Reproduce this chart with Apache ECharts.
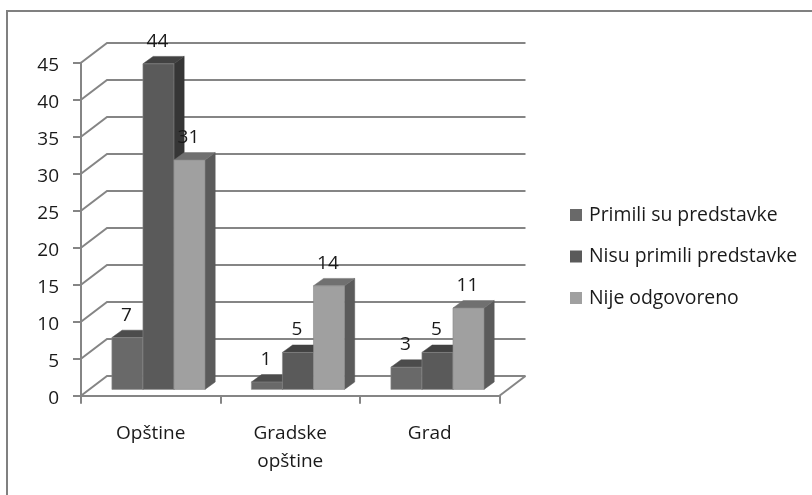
<!DOCTYPE html>
<html><head><meta charset="utf-8">
<style>html,body{margin:0;padding:0;background:#fff}#c{width:812px;height:495px}</style>
<script src="https://cdn.jsdelivr.net/npm/echarts@6/dist/echarts.min.js"></script>
</head><body><div id="c"></div>
<script>
const categories = ['Opštine', 'Gradske\nopštine', 'Grad'];
const primili = [7, 1, 3];
const nisuPrimili = [44, 5, 5];
const nijeOdgovoreno = [31, 14, 11];
const wallTicks = [0, 5, 10, 15, 20, 25, 30, 35, 40, 45];

const FONT = '"Open Sans"';
const TEXT = '#1a1a1a';
const GRID_COLOR = '#858585';
const WALL_DX = 26, WALL_DY = 19.7;
const BAR_DX = 7.7, BAR_DY = 6.3, SIDE_DX = 10.2, SIDE_DY = 7.4;
const BAR_RATIO = 0.2225;
const palettes = [
  {front: '#696969', top: '#4c4c4c', side: '#4a4a4a'},
  {front: '#5a5a5a', top: '#424242', side: '#363636'},
  {front: '#a0a0a0', top: '#707070', side: '#5b5b5b'}
];

function barSeries(name, values, idx) {
  return {
    type: 'custom', name, z: 3 + idx,
    data: values.map((v, i) => [i, v]),
    itemStyle: {color: palettes[idx].front},
    encode: {x: 0, y: 1},
    clip: false,
    renderItem(params, api) {
      const cat = api.value(0), val = api.value(1);
      const top = api.coord([cat, val]), base = api.coord([cat, 0]);
      const w = api.size([1, 0])[0] * BAR_RATIO;
      const x0 = top[0] + BAR_DX + (idx - 1.5) * w, x1 = x0 + w;
      const yT = top[1] - BAR_DY, yB = base[1] - BAR_DY;
      const p = palettes[idx];
      const poly = (points, fill) => ({type: 'polygon', shape: {points}, style: {fill, stroke: fill, lineWidth: 0.5}});
      return {type: 'group', children: [
        poly([[x1, yT], [x1 + SIDE_DX, yT - SIDE_DY], [x1 + SIDE_DX, yB - SIDE_DY], [x1, yB]], p.side),
        poly([[x0, yT], [x0 + SIDE_DX, yT - SIDE_DY], [x1 + SIDE_DX, yT - SIDE_DY], [x1, yT]], p.top),
        {type: 'rect', shape: {x: x0, y: yT, width: w, height: yB - yT},
         style: {fill: p.front, stroke: '#8a8a8a', lineWidth: 0.6}},
        {type: 'text', z2: 100, style: {text: String(val), x: (x0 + x1) / 2 - 1, y: yT - 22.5,
          fill: TEXT, font: '19px ' + FONT, align: 'center', verticalAlign: 'middle'}}
      ]};
    }
  };
}

const wallSeries = {
  type: 'custom', name: 'wall', z: 1, silent: true, clip: false,
  data: wallTicks.map(v => [0, v]),
  encode: {x: 0, y: 1},
  renderItem(params, api) {
    const val = api.value(1);
    const y = api.coord([0, val])[1];
    const start = api.coord([0, 0])[0] - api.size([1, 0])[0] / 2;
    const end = start + api.size([1, 0])[0] * categories.length;
    const line = {stroke: GRID_COLOR, lineWidth: 2};
    const children = [{type: 'polyline', style: Object.assign({fill: 'none'}, line),
      shape: {points: [[start, y], [start + WALL_DX, y - WALL_DY], [end + WALL_DX, y - WALL_DY]]}}];
    if (val === 0) {
      children.push({type: 'line', style: line, shape: {x1: end, y1: y, x2: end + WALL_DX, y2: y - WALL_DY}});
    }
    return {type: 'group', children};
  }
};

const chart = echarts.init(document.getElementById('c'), null, {renderer: 'canvas'});
chart.setOption({
  animation: false,
  backgroundColor: '#fff',
  graphic: [{type: 'polyline', shape: {points: [[7, 495], [7, 11], [812, 11]]},
    style: {fill: 'none', stroke: '#808080', lineWidth: 2}, z: -1, silent: true}],
  grid: {left: 81, top: 62.7, width: 418.5, height: 333},
  legend: {
    data: ['Primili su predstavke', 'Nisu primili predstavke', 'Nije odgovoreno'],
    orient: 'vertical', left: 570, top: 205.5, itemWidth: 12, itemHeight: 12, itemGap: 22.5,
    padding: 0, selectedMode: false, icon: 'rect',
    textStyle: {fontFamily: FONT, fontSize: 19.4, lineHeight: 19, color: TEXT, padding: [0, 0, 0, 2]}
  },
  xAxis: {
    type: 'category', data: categories,
    axisLine: {lineStyle: {color: GRID_COLOR, width: 2}},
    axisTick: {show: true, length: 8, alignWithLabel: false, lineStyle: {color: GRID_COLOR, width: 2}},
    axisLabel: {fontFamily: FONT, fontSize: 19, color: TEXT, margin: 24, lineHeight: 28, interval: 0}
  },
  yAxis: {
    type: 'value', min: 0, max: 45, interval: 5,
    axisLine: {show: true, lineStyle: {color: GRID_COLOR, width: 2}},
    axisTick: {show: true, length: 8, lineStyle: {color: GRID_COLOR, width: 2}},
    axisLabel: {fontFamily: FONT, fontSize: 19, color: TEXT, margin: 22, verticalAlign: 'top', lineHeight: 5},
    splitLine: {show: false}
  },
  series: [wallSeries,
    barSeries('Primili su predstavke', primili, 0),
    barSeries('Nisu primili predstavke', nisuPrimili, 1),
    barSeries('Nije odgovoreno', nijeOdgovoreno, 2)]
});
</script></body></html>
